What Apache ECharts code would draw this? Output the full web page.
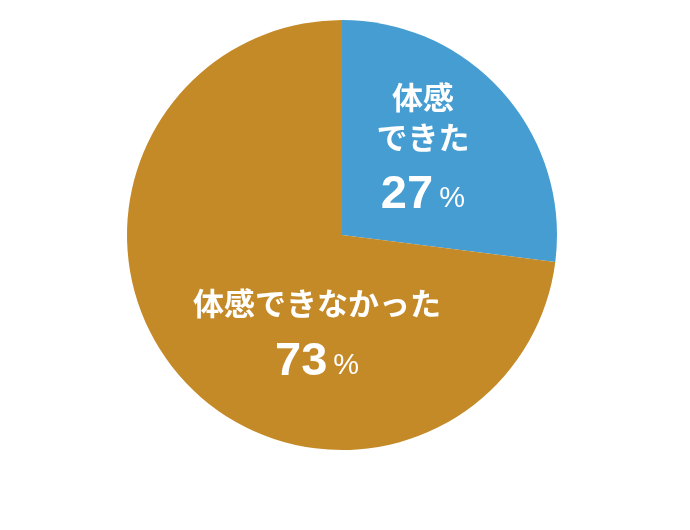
<!DOCTYPE html>
<html>
<head>
<meta charset="utf-8">
<script src="https://cdn.jsdelivr.net/npm/echarts@6/dist/echarts.min.js"></script>
<style>
  html, body { margin: 0; padding: 0; background: #fff; }
  #main { width: 690px; height: 530px; }
</style>
</head>
<body>
<div id="main"></div>
<script>
// 回答の割合
const names = ['体感\nできた', '体感できなかった'];
const values = [27, 73];
const colors = ['#459dd2', '#c58a28'];

const labelOffsets = [[-2, -14], [58, 26]];

const myChart = echarts.init(document.getElementById('main'));

myChart.setOption({
    animation: false,
    series: [
        {
            type: 'pie',
            center: [342, 235],
            radius: 215,
            startAngle: 90,
            clockwise: true,
            label: {
                position: 'inside',
                color: '#fff',
                formatter: p => {
                    const lines = p.name.split('\n').map(s => '{n|' + s + '}').join('\n');
                    return lines + '\n{num|' + p.value + '}{pct|%}';
                },
                rich: {
                    n: {
                        fontFamily: 'Noto Sans CJK JP',
                        fontWeight: 'bold',
                        fontSize: 31,
                        lineHeight: 40,
                        color: '#fff',
                        align: 'center'
                    },
                    num: {
                        fontFamily: 'Liberation Sans',
                        fontWeight: 'bold',
                        fontSize: 47,
                        lineHeight: 62,
                        color: '#fff',
                        verticalAlign: 'bottom'
                    },
                    pct: {
                        fontFamily: 'Liberation Sans',
                        fontSize: 29,
                        lineHeight: 62,
                        color: '#fff',
                        padding: [0, 0, 5, 6],
                        verticalAlign: 'bottom'
                    }
                }
            },
            labelLine: { show: false },
            emphasis: { disabled: true },
            data: names.map((n, i) => ({
                name: n,
                value: values[i],
                itemStyle: { color: colors[i] },
                label: { offset: labelOffsets[i] }
            }))
        }
    ]
});
</script>
</body>
</html>
